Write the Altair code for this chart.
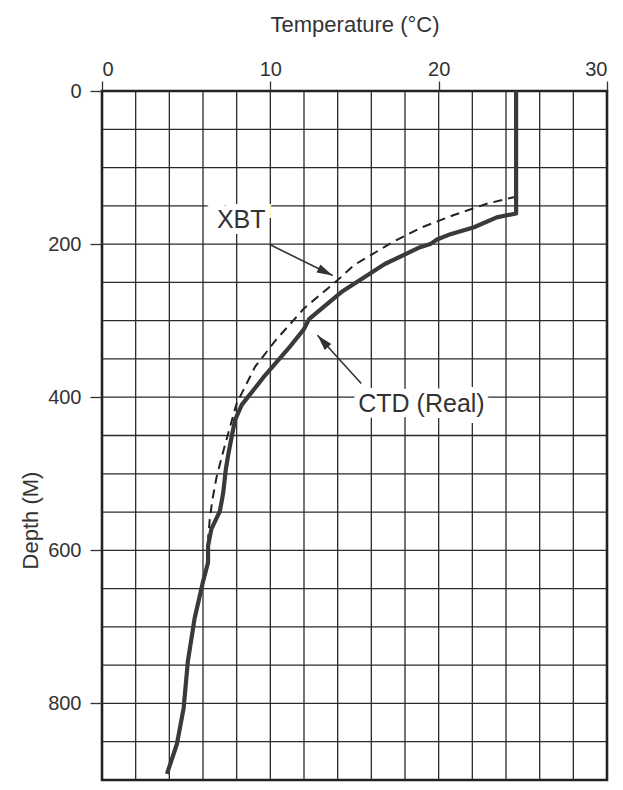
import altair as alt
import pandas as pd

# CTD (Real) profile: temperature (°C) vs depth (m)
ctd_temp = [24.6, 24.6, 23.9, 23.45, 22.1, 20.7, 19.9, 19.5, 18.9, 16.8, 14.2, 12.3, 12.0, 11.05,
            9.7, 8.3, 7.9, 7.7, 7.5, 7.35, 7.2, 7.0, 6.5, 6.3, 6.3, 6.0, 5.5, 5.1, 4.85, 4.45, 3.86]
ctd_depth = [0, 160, 163, 165, 178, 187, 194, 200, 204, 226, 263, 298, 311, 337,
             371, 410, 430, 452, 475, 495, 525, 549, 572, 594, 616, 641, 689, 745, 806, 853, 892]

# XBT profile
xbt_temp = [24.6, 24.6, 22.9, 20.9, 18.9, 17.3, 15.0, 14.0, 12.0, 10.3, 9.1, 8.0, 7.5,
            7.15, 6.8, 6.55, 6.4, 6.3]
xbt_depth = [0, 138, 147, 162, 179, 197, 227, 247, 284, 326, 360, 408, 447,
             475, 505, 535, 560, 585]

# grid / ticks
grid_temps = list(range(2, 30, 2))
grid_depths = list(range(50, 900, 50))
x_ticks = [0, 10, 20, 30]
y_ticks = [0, 200, 400, 600, 800]

# annotations
label_text = ["XBT", "CTD (Real)"]
label_temp = [8.27, 18.98]
label_depth = [168.6, 408.6]
arrow_t0 = [9.96, 15.4]
arrow_d0 = [200.6, 382.0]
arrow_t1 = [13.7, 12.8]
arrow_d1 = [241.0, 319.0]
arrow_angle = [116.3, 318.2]

FONT = "Liberation Sans"
INK = "#333333"

xs = alt.Scale(domain=[0, 30], nice=False, zero=False)
ys = alt.Scale(domain=[0, 900], nice=False, reverse=True)

xaxis = alt.Axis(orient="top", values=x_ticks, grid=False, domain=False,
                 tickSize=10, tickColor=INK, tickWidth=1.3,
                 labelFont=FONT, labelFontSize=20, labelColor=INK, labelPadding=2,
                 title="Temperature (°C)", titleFont=FONT, titleFontSize=22,
                 titleFontWeight="normal", titleColor=INK,
                 titleY=-60, titleBaseline="alphabetic")
yaxis = alt.Axis(values=y_ticks, grid=False, domain=False,
                 tickSize=12, tickColor=INK, tickWidth=1.3,
                 labelFont=FONT, labelFontSize=20, labelColor=INK, labelPadding=9,
                 title="Depth (M)", titleFont=FONT, titleFontSize=22,
                 titleFontWeight="normal", titleColor=INK,
                 titleX=-65, titleY=429, titleAngle=270, titleBaseline="alphabetic",
                 titleAlign="center")

X = lambda f="T": alt.X(f + ":Q", scale=xs, axis=xaxis)
Y = lambda f="D": alt.Y(f + ":Q", scale=ys, axis=yaxis)

vgrid = alt.Chart(pd.DataFrame({"T": grid_temps})).mark_rule(
    color="#2a2a2a", strokeWidth=1.3).encode(x=X())
hgrid = alt.Chart(pd.DataFrame({"D": grid_depths})).mark_rule(
    color="#2a2a2a", strokeWidth=1.3).encode(y=Y())

xbt_df = pd.DataFrame({"T": xbt_temp, "D": xbt_depth, "i": range(len(xbt_temp))})
ctd_df = pd.DataFrame({"T": ctd_temp, "D": ctd_depth, "i": range(len(ctd_temp))})

xbt = alt.Chart(xbt_df).mark_line(color="#222222", strokeWidth=2,
                                  strokeDash=[9, 6]).encode(
    x=X(), y=Y(), order="i:Q")
ctd = alt.Chart(ctd_df).mark_line(color="#3a3a3a", strokeWidth=4.2,
                                  strokeJoin="round").encode(
    x=X(), y=Y(), order="i:Q")

lab_df = pd.DataFrame({"T": label_temp, "D": label_depth, "label": label_text})
halo = alt.Chart(lab_df).mark_text(font=FONT, fontSize=25, stroke="white",
                                   strokeWidth=12, color="white",
                                   align="center", baseline="middle").encode(
    x=X(), y=Y(), text="label:N")
labels = alt.Chart(lab_df).mark_text(font=FONT, fontSize=25, color=INK,
                                     align="center", baseline="middle").encode(
    x=X(), y=Y(), text="label:N")

arr_df = pd.DataFrame({"T": arrow_t0, "D": arrow_d0, "T2": arrow_t1, "D2": arrow_d1,
                       "ang": arrow_angle})
shafts = alt.Chart(arr_df).mark_rule(color=INK, strokeWidth=1.6).encode(
    x=X(), y=Y(), x2="T2:Q", y2="D2:Q")
heads = alt.Chart(arr_df).mark_point(
    shape="M0,0L-0.28,1L0.28,1Z", filled=True, color=INK, opacity=1, size=1000).encode(
    x=X("T2"), y=Y("D2"), angle=alt.Angle("ang:Q", scale=None))

chart = alt.layer(vgrid, hgrid, xbt, ctd, halo, labels, shafts, heads).properties(
    width=505, height=689,
    autosize=alt.AutoSizeParams(type="none"),
    padding={"left": 94, "top": 83, "right": 8, "bottom": 2},
    background="white",
).configure_view(stroke="#222222", strokeWidth=2.6)

chart.save("out.html", embed_options={"renderer": "svg", "actions": False})
